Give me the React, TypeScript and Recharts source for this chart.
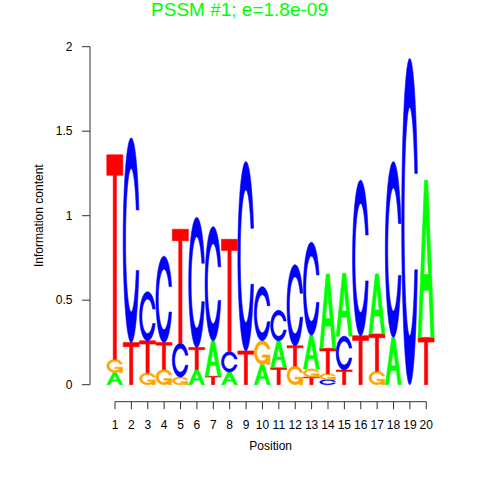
import React from 'react';
import { ComposedChart, Bar, XAxis, YAxis } from 'recharts';

const positions = [1, 2, 3, 4, 5, 6, 7, 8, 9, 10, 11, 12, 13, 14, 15, 16, 17, 18, 19, 20];
const heightA = [0.072, 0, 0, 0, 0, 0.09, 0.21, 0.075, 0, 0.12, 0.16, 0, 0.2, 0.44, 0.373, 0, 0.355, 0.28, 0, 0.93];
const heightC = [0, 1.21, 0.29, 0.51, 0.2, 0.77, 0.675, 0.12, 1.12, 0.32, 0.18, 0.48, 0.55, 0.03, 0.2, 0.92, 0, 1.04, 1.93, 0];
const heightG = [0.078, 0, 0.07, 0.09, 0.045, 0, 0, 0, 0, 0.14, 0, 0.11, 0.048, 0.035, 0, 0, 0.08, 0, 0, 0];
const heightT = [1.21, 0.25, 0.19, 0.16, 0.675, 0.13, 0.05, 0.665, 0.2, 0, 0.1, 0.12, 0.045, 0.15, 0.087, 0.29, 0.22, 0, 0, 0.28];
const yTicks = [0, 0.5, 1, 1.5, 2];
const title = 'PSSM #1; e=1.8e-09';
const xTitle = 'Position';
const yTitle = 'Information content';

const letterColors: Record<string, string> = {
  A: '#00FF00',
  C: '#0000FF',
  G: '#FFA500',
  T: '#FF0000',
};

const RANKS = [0, 1, 2, 3];

const data = positions.map((pos, i) => {
  const stack = [
    { l: 'A', h: heightA[i] },
    { l: 'C', h: heightC[i] },
    { l: 'G', h: heightG[i] },
    { l: 'T', h: heightT[i] },
  ]
    .filter((s) => s.h > 0)
    .sort((a, b) => a.h - b.h);
  const row: any = { pos };
  RANKS.forEach((r) => {
    row[`h${r}`] = stack[r] ? stack[r].h : 0;
    row[`l${r}`] = stack[r] ? stack[r].l : null;
  });
  return row;
});

// ---- glyph geometry in a unit box (y up) ----
function seq(a: number, b: number, n: number) {
  return Array.from({ length: n }, (_, k) => a + ((b - a) * k) / (n - 1));
}
function buildC(): number[][] {
  const a1 = seq(0.3 + Math.PI / 2, Math.PI, 100);
  const a2 = seq(Math.PI, 1.5 * Math.PI, 100);
  const xl1 = a1.map((a) => 0.5 + 0.5 * Math.sin(a));
  const yl1 = a1.map((a) => 0.5 + 0.5 * Math.cos(a));
  const xl2 = a2.map((a) => 0.5 + 0.5 * Math.sin(a));
  const yl2 = a2.map((a) => 0.5 + 0.5 * Math.cos(a));
  const xl = [...xl1, ...xl2];
  const yl = [...yl1, ...yl2];
  const x = [...xl, ...[...xl].reverse()];
  const y = [...yl, ...[...yl].reverse().map((v) => 1 - v)];
  const maxY = Math.max(...yl1);
  let xi1 = a1.map((a) => 0.5 + 0.35 * Math.sin(a));
  let yi1 = a1.map((a) => 0.5 + 0.35 * Math.cos(a));
  const keep = yi1.map((v) => v <= maxY);
  xi1 = xi1.filter((_, k) => keep[k]);
  yi1 = yi1.filter((_, k) => keep[k]);
  yi1[0] = maxY;
  const xi2 = a2.map((a) => 0.5 + 0.35 * Math.sin(a));
  const yi2 = a2.map((a) => 0.5 + 0.35 * Math.cos(a));
  const xi = [...xi1, ...xi2];
  const yi = [...yi1, ...yi2];
  const x1 = [...xi, ...[...xi].reverse()];
  const y1 = [...yi, ...[...yi].reverse().map((v) => 1 - v)];
  const X = [...x, ...[...x1].reverse()];
  const Y = [...y, ...[...y1].reverse()];
  return X.map((v, k) => [v, Y[k]]);
}
const C_POLY = buildC();
const R1 = 0.5 + 0.5 * Math.cos(0.3);
const G_BAR = [
  [R1, 0.4],
  [0.5, 0.4],
  [0.5, 0.3],
  [R1 - 0.2, 0.3],
  [R1 - 0.2, 0],
  [R1, 0],
];
const T_POLY = [
  [0, 1],
  [1, 1],
  [1, 0.9],
  [0.6, 0.9],
  [0.6, 0],
  [0.4, 0],
  [0.4, 0.9],
  [0, 0.9],
];
const A_OUTER = [
  [0, 0],
  [0.4, 1],
  [0.6, 1],
  [1, 0],
  [0.8, 0],
  [0.68, 0.3],
  [0.32, 0.3],
  [0.2, 0],
];
const A_HOLE = [
  [0.36, 0.4],
  [0.5, 0.75],
  [0.64, 0.4],
];

function toPath(poly: number[][], x: number, y: number, w: number, h: number) {
  return (
    'M' +
    poly.map(([ux, uy]) => `${(x + ux * w).toFixed(2)},${(y + (1 - uy) * h).toFixed(2)}`).join('L') +
    'Z'
  );
}

const makeShape = (r: number) => (props: any) => {
  const { x, y, width, height, payload } = props;
  const letter = payload ? payload[`l${r}`] : null;
  if (!letter || !(height > 0)) return <g />;
  const color = letterColors[letter];
  const common = { fill: color, stroke: color, strokeWidth: 0.6 };
  if (letter === 'A') {
    return (
      <path
        d={toPath(A_OUTER, x, y, width, height) + toPath(A_HOLE, x, y, width, height)}
        fillRule="evenodd"
        {...common}
      />
    );
  }
  if (letter === 'C') {
    return <path d={toPath(C_POLY, x, y, width, height)} {...common} />;
  }
  if (letter === 'G') {
    return (
      <g>
        <path d={toPath(C_POLY, x, y, width, height)} {...common} />
        <path d={toPath(G_BAR, x, y, width, height)} {...common} />
      </g>
    );
  }
  return <path d={toPath(T_POLY, x, y, width, height)} {...common} />;
};

const FONT = '"Liberation Sans", Arial, Helvetica, sans-serif';
const AXIS_COLOR = '#333';

export default function App() {
  return (
    <div
      style={{
        position: 'absolute',
        left: 0,
        top: 0,
        width: 480,
        height: 480,
        background: '#fff',
        fontFamily: FONT,
      }}
    >
      <svg width={480} height={30} style={{ position: 'absolute', left: 0, top: 0 }}>
        <text x={239.5} y={15.5} textAnchor="middle" fill="#00FF00" fontSize={19} fontFamily={FONT}>
          {title}
        </text>
      </svg>
      <ComposedChart
        width={480}
        height={480}
        data={data}
        margin={{ top: 46.7, right: 53.7, bottom: 28.3, left: 30 }}
        barCategoryGap={0}
        barGap={0}
        style={{ position: 'absolute', left: 0, top: 0 }}
      >
        <XAxis
          xAxisId="b"
          type="number"
          dataKey="pos"
          domain={[1, 20]}
          ticks={positions}
          interval={0}
          height={50}
          axisLine={{ stroke: AXIS_COLOR, strokeWidth: 1 }}
          tickLine={{ stroke: AXIS_COLOR, strokeWidth: 1 }}
          tickSize={7.5}
          tickMargin={11}
          tick={{ fill: '#000', fontSize: 12 }}
          label={{ value: xTitle, position: 'insideBottom', offset: 2, fill: '#000', fontSize: 12 }}
        />
        <XAxis
          xAxisId="a"
          type="number"
          dataKey="pos"
          domain={[1, 20]}
          height={17}
          axisLine={false}
          tickLine={false}
          tick={false}
        />
        <YAxis
          yAxisId="b"
          type="number"
          domain={[0, 2]}
          ticks={yTicks}
          interval={0}
          width={60}
          axisLine={{ stroke: AXIS_COLOR, strokeWidth: 1 }}
          tickLine={{ stroke: AXIS_COLOR, strokeWidth: 1 }}
          tickSize={8}
          tickMargin={9.5}
          tick={{ fill: '#000', fontSize: 12 }}
          label={{
            value: yTitle,
            angle: -90,
            position: 'insideLeft',
            offset: 9,
            fill: '#000',
            fontSize: 12,
            style: { textAnchor: 'middle' },
          }}
        />
        <YAxis
          yAxisId="a"
          type="number"
          domain={[0, 2]}
          width={25}
          axisLine={false}
          tickLine={false}
          tick={false}
        />
        {RANKS.map((r) => (
          <Bar
            key={r}
            dataKey={`h${r}`}
            stackId="logo"
            xAxisId="b"
            yAxisId="b"
            isAnimationActive={false}
            shape={makeShape(r)}
          />
        ))}
      </ComposedChart>
    </div>
  );
}
